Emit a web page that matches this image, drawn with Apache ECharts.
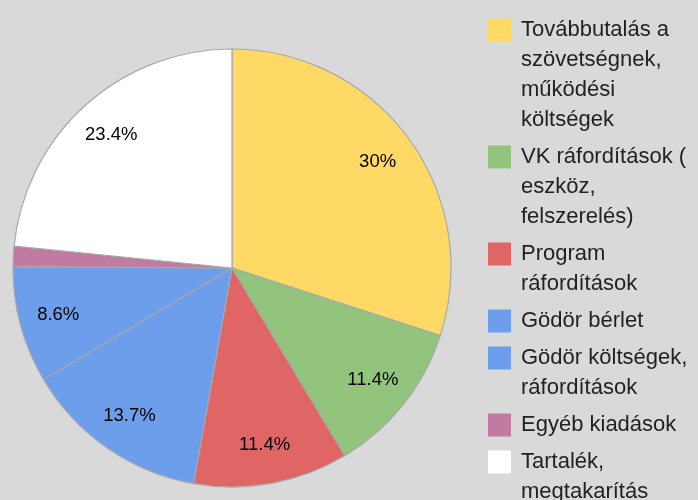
<!DOCTYPE html>
<html>
<head>
<meta charset="utf-8">
<script src="https://cdn.jsdelivr.net/npm/echarts@6/dist/echarts.min.js"></script>
<style>
  html, body { margin: 0; padding: 0; background: #d9d9d9; }
  #chart { width: 698px; height: 500px; }
</style>
</head>
<body>
<div id="chart"></div>
<script>
// Budget split, percent of total.
var categories = [
  'Továbbutalás a szövetségnek, működési költségek',
  'VK ráfordítások ( eszköz, felszerelés)',
  'Program ráfordítások',
  'Gödör bérlet',
  'Gödör költségek, ráfordítások',
  'Egyéb kiadások',
  'Tartalék, megtakarítás'
];
var values = [30, 11.4, 11.4, 13.7, 8.6, 1.5, 23.4];
// Legend text as it wraps in the picture.
var legendLines = [
  ['Továbbutalás a', 'szövetségnek,', 'működési', 'költségek'],
  ['VK ráfordítások (', 'eszköz,', 'felszerelés)'],
  ['Program', 'ráfordítások'],
  ['Gödör bérlet'],
  ['Gödör költségek,', 'ráfordítások'],
  ['Egyéb kiadások'],
  ['Tartalék,', 'megtakarítás']
];
var colors = ['#ffd966', '#93c47d', '#e06666', '#6d9eeb', '#6d9eeb', '#c27ba0', '#ffffff'];

var font = '"Liberation Sans", Arial, sans-serif';
var chart = echarts.init(document.getElementById('chart'), null, {renderer: 'canvas'});

var pieData = categories.map(function (name, i) {
  return {name: name, value: values[i], itemStyle: {color: colors[i]}};
});

// Rich styles for the legend: one coloured square per item.
var rich = {
  t: {fontSize: 22, lineHeight: 30, color: '#222', fontFamily: font, padding: [0, 0, 0, 10]},
  g: {width: 23, height: 23, lineHeight: 30}
};
colors.forEach(function (c, i) {
  rich['s' + i] = {width: 23, height: 23, lineHeight: 30, backgroundColor: c};
});

var option = {
  backgroundColor: '#d9d9d9',
  animation: false,
  legend: {
    orient: 'vertical',
    left: 483,
    top: 15,
    padding: 0,
    itemGap: 7,
    itemWidth: 0,
    itemHeight: 23,
    icon: 'none',
    selectedMode: false,
    data: categories,
    formatter: function (name) {
      var i = categories.indexOf(name);
      return legendLines[i].map(function (line, k) {
        return (k === 0 ? '{s' + i + '|}' : '{g|}') + '{t|' + line + '}';
      }).join('\n');
    },
    textStyle: {fontSize: 22, lineHeight: 30, fontFamily: font, color: '#222', rich: rich}
  },
  series: [
    {
      type: 'pie',
      center: [232, 268],
      radius: [0, 219],
      startAngle: 90,
      clockwise: true,
      label: {show: false},
      labelLine: {show: false},
      emphasis: {disabled: true},
      itemStyle: {borderColor: '#a8a8a8', borderWidth: 1.2},
      data: pieData
    },
    {
      // label-only ring so the percentages sit out toward the rim
      type: 'pie',
      center: [232, 268],
      radius: [135, 219],
      startAngle: 90,
      clockwise: true,
      silent: true,
      minShowLabelAngle: 6,
      itemStyle: {color: 'rgba(0,0,0,0)', borderWidth: 0},
      label: {
        show: true,
        position: 'inside',
        formatter: '{c}%',
        color: '#000',
        fontSize: 18.5,
        fontFamily: font
      },
      labelLine: {show: false},
      emphasis: {disabled: true},
      data: categories.map(function (name, i) {
        return {name: name, value: values[i]};
      })
    }
  ]
};

chart.setOption(option);
</script>
</body>
</html>
